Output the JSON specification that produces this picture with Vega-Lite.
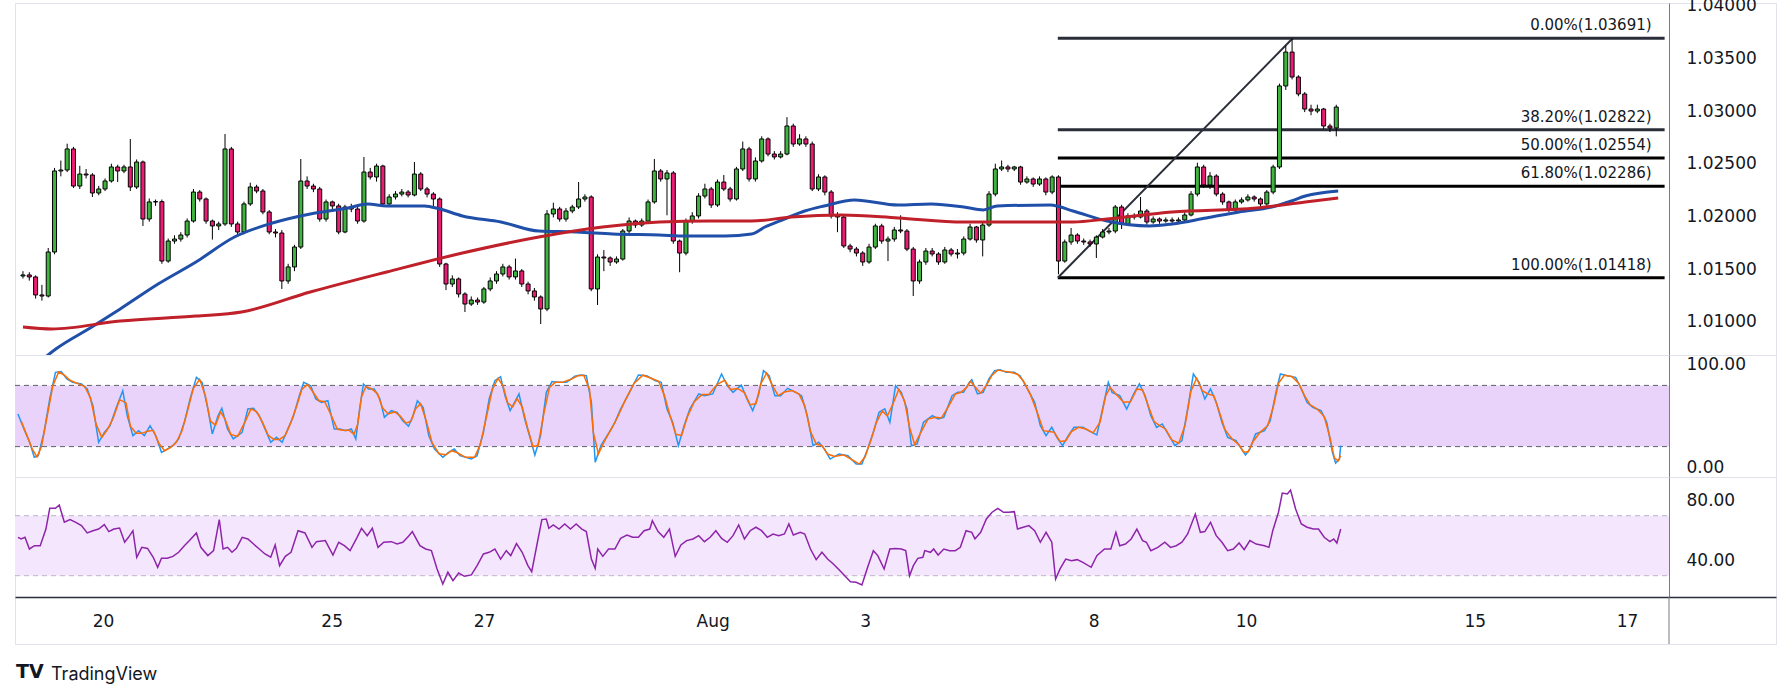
{
  "$schema": "https://vega.github.io/schema/vega-lite/v6.json",
  "background": "#ffffff",
  "padding": {"left": 14, "top": -4, "right": 16, "bottom": 8},
  "spacing": 0,
  "bounds": "flush",
  "config": {
    "view": {"stroke": "#e0e3eb", "strokeWidth": 1},
    "axis": {"labelFont": "DejaVu Sans", "labelFontSize": 17, "labelColor": "#131722", "ticks": false, "grid": false, "domainColor": "#787b86", "labelFlush": false, "labelOverlap": false},
    "text": {"font": "DejaVu Sans"}
  },
  "title": {"text": "TradingView", "orient": "bottom", "anchor": "start", "frame": "group", "dx": 36, "offset": -16, "fontSize": 18, "fontWeight": "normal", "font": "Inter", "color": "#131722"},
  "datasets": {
    "candles": [
      {"i":0,"o":1.01434,"h":1.0148,"l":1.0141,"c":1.01444},{"i":1,"o":1.01444,"h":1.0147,"l":1.0139,"c":1.01425},{"i":2,"o":1.01425,"h":1.0144,"l":1.0122,"c":1.01254},{"i":3,"o":1.01254,"h":1.0135,"l":1.012,"c":1.01244},{"i":4,"o":1.01244,"h":1.017,"l":1.0123,"c":1.01662},
      {"i":5,"o":1.01662,"h":1.0246,"l":1.0164,"c":1.02431},{"i":6,"o":1.02431,"h":1.0253,"l":1.0238,"c":1.0244},{"i":7,"o":1.0244,"h":1.0269,"l":1.0242,"c":1.0264},{"i":8,"o":1.0264,"h":1.0266,"l":1.0227,"c":1.02288},{"i":9,"o":1.02288,"h":1.0248,"l":1.0226,"c":1.02402},
      {"i":10,"o":1.02402,"h":1.0245,"l":1.0236,"c":1.02393},{"i":11,"o":1.02393,"h":1.0241,"l":1.02184,"c":1.02222},{"i":12,"o":1.02222,"h":1.0229,"l":1.022,"c":1.0226},{"i":13,"o":1.0226,"h":1.0236,"l":1.0224,"c":1.02336},{"i":14,"o":1.02336,"h":1.025,"l":1.0232,"c":1.02469},
      {"i":15,"o":1.02469,"h":1.0249,"l":1.02326,"c":1.02431},{"i":16,"o":1.02431,"h":1.0249,"l":1.0241,"c":1.02469},{"i":17,"o":1.02469,"h":1.02735,"l":1.02241,"c":1.02279},{"i":18,"o":1.02279,"h":1.0254,"l":1.0226,"c":1.02516},{"i":19,"o":1.02516,"h":1.0253,"l":1.01909,"c":1.01975},
      {"i":20,"o":1.01975,"h":1.0217,"l":1.0195,"c":1.02137},{"i":21,"o":1.02137,"h":1.0216,"l":1.021,"c":1.0214},{"i":22,"o":1.0214,"h":1.0216,"l":1.0155,"c":1.01576},{"i":23,"o":1.01576,"h":1.0179,"l":1.0156,"c":1.01766},{"i":24,"o":1.01766,"h":1.0182,"l":1.0174,"c":1.01785},
      {"i":25,"o":1.01785,"h":1.0185,"l":1.0176,"c":1.01823},{"i":26,"o":1.01823,"h":1.0198,"l":1.018,"c":1.01956},{"i":27,"o":1.01956,"h":1.0226,"l":1.0194,"c":1.02231},{"i":28,"o":1.02231,"h":1.0225,"l":1.0214,"c":1.02165},{"i":29,"o":1.02165,"h":1.0218,"l":1.0193,"c":1.01956},
      {"i":30,"o":1.01956,"h":1.0197,"l":1.0178,"c":1.01909},{"i":31,"o":1.01909,"h":1.0195,"l":1.0187,"c":1.01928},{"i":32,"o":1.01928,"h":1.02782,"l":1.0191,"c":1.0264},{"i":33,"o":1.0264,"h":1.0266,"l":1.019,"c":1.01928},{"i":34,"o":1.01928,"h":1.0195,"l":1.0182,"c":1.01852},
      {"i":35,"o":1.01852,"h":1.0214,"l":1.0183,"c":1.02118},{"i":36,"o":1.02118,"h":1.0232,"l":1.021,"c":1.02279},{"i":37,"o":1.02279,"h":1.023,"l":1.0222,"c":1.02241},{"i":38,"o":1.02241,"h":1.0226,"l":1.0202,"c":1.02042},{"i":39,"o":1.02042,"h":1.0206,"l":1.0183,"c":1.01852},
      {"i":40,"o":1.01852,"h":1.0188,"l":1.018,"c":1.01842},{"i":41,"o":1.01842,"h":1.0187,"l":1.01311,"c":1.01387},{"i":42,"o":1.01387,"h":1.0155,"l":1.0136,"c":1.0152},{"i":43,"o":1.0152,"h":1.0173,"l":1.0148,"c":1.01709},{"i":44,"o":1.01709,"h":1.02545,"l":1.0169,"c":1.02336},
      {"i":45,"o":1.02336,"h":1.0238,"l":1.0226,"c":1.02288},{"i":46,"o":1.02288,"h":1.0231,"l":1.0223,"c":1.0226},{"i":47,"o":1.0226,"h":1.0228,"l":1.0195,"c":1.01975},{"i":48,"o":1.01975,"h":1.0216,"l":1.0195,"c":1.02137},{"i":49,"o":1.02137,"h":1.0215,"l":1.0206,"c":1.02099},
      {"i":50,"o":1.02099,"h":1.0212,"l":1.0183,"c":1.01852},{"i":51,"o":1.01852,"h":1.0211,"l":1.0184,"c":1.02089},{"i":52,"o":1.02089,"h":1.0212,"l":1.0204,"c":1.0207},{"i":53,"o":1.0207,"h":1.0209,"l":1.0193,"c":1.01956},{"i":54,"o":1.01956,"h":1.02564,"l":1.0194,"c":1.02421},
      {"i":55,"o":1.02421,"h":1.0246,"l":1.0235,"c":1.02374},{"i":56,"o":1.02374,"h":1.025,"l":1.0233,"c":1.02478},{"i":57,"o":1.02478,"h":1.0249,"l":1.02099,"c":1.02118},{"i":58,"o":1.02118,"h":1.0221,"l":1.021,"c":1.02184},{"i":59,"o":1.02184,"h":1.0224,"l":1.0216,"c":1.02212},
      {"i":60,"o":1.02212,"h":1.0226,"l":1.0219,"c":1.02231},{"i":61,"o":1.02231,"h":1.0225,"l":1.0218,"c":1.02203},{"i":62,"o":1.02203,"h":1.02516,"l":1.0219,"c":1.02402},{"i":63,"o":1.02402,"h":1.0242,"l":1.0224,"c":1.0226},{"i":64,"o":1.0226,"h":1.0228,"l":1.0218,"c":1.02212},
      {"i":65,"o":1.02212,"h":1.0223,"l":1.0209,"c":1.02165},{"i":66,"o":1.02165,"h":1.0218,"l":1.0152,"c":1.01548},{"i":67,"o":1.01548,"h":1.0156,"l":1.013,"c":1.01358},{"i":68,"o":1.01358,"h":1.0144,"l":1.0133,"c":1.01406},{"i":69,"o":1.01406,"h":1.0142,"l":1.0123,"c":1.01263},
      {"i":70,"o":1.01263,"h":1.0128,"l":1.01092,"c":1.01168},{"i":71,"o":1.01168,"h":1.0124,"l":1.0115,"c":1.01206},{"i":72,"o":1.01206,"h":1.0123,"l":1.0116,"c":1.01187},{"i":73,"o":1.01187,"h":1.0133,"l":1.0117,"c":1.01311},{"i":74,"o":1.01311,"h":1.0142,"l":1.0129,"c":1.01387},
      {"i":75,"o":1.01387,"h":1.0148,"l":1.0136,"c":1.01453},{"i":76,"o":1.01453,"h":1.0155,"l":1.0143,"c":1.0152},{"i":77,"o":1.0152,"h":1.0154,"l":1.014,"c":1.01425},{"i":78,"o":1.01425,"h":1.016,"l":1.014,"c":1.01482},{"i":79,"o":1.01482,"h":1.015,"l":1.0133,"c":1.01358},
      {"i":80,"o":1.01358,"h":1.0138,"l":1.0126,"c":1.01292},{"i":81,"o":1.01292,"h":1.0132,"l":1.012,"c":1.01235},{"i":82,"o":1.01235,"h":1.0125,"l":1.00978,"c":1.01121},{"i":83,"o":1.01121,"h":1.0206,"l":1.011,"c":1.02023},{"i":84,"o":1.02023,"h":1.0213,"l":1.0199,"c":1.0207},
      {"i":85,"o":1.0207,"h":1.0209,"l":1.0195,"c":1.01975},{"i":86,"o":1.01975,"h":1.0208,"l":1.0195,"c":1.02051},{"i":87,"o":1.02051,"h":1.0211,"l":1.0203,"c":1.02089},{"i":88,"o":1.02089,"h":1.02326,"l":1.0207,"c":1.02165},{"i":89,"o":1.02165,"h":1.0221,"l":1.0214,"c":1.02184},
      {"i":90,"o":1.02184,"h":1.022,"l":1.0129,"c":1.01311},{"i":91,"o":1.01311,"h":1.0164,"l":1.01159,"c":1.01614},{"i":92,"o":1.01614,"h":1.0168,"l":1.0148,"c":1.01605},{"i":93,"o":1.01605,"h":1.0162,"l":1.0153,"c":1.01567},{"i":94,"o":1.01567,"h":1.0162,"l":1.0155,"c":1.01595},
      {"i":95,"o":1.01595,"h":1.0188,"l":1.0158,"c":1.01861},{"i":96,"o":1.01861,"h":1.0199,"l":1.0184,"c":1.01956},{"i":97,"o":1.01956,"h":1.0197,"l":1.0189,"c":1.01918},{"i":98,"o":1.01918,"h":1.0198,"l":1.019,"c":1.01956},{"i":99,"o":1.01956,"h":1.0216,"l":1.0194,"c":1.02137},
      {"i":100,"o":1.02137,"h":1.02545,"l":1.0212,"c":1.02431},{"i":101,"o":1.02431,"h":1.0245,"l":1.0233,"c":1.02355},{"i":102,"o":1.02355,"h":1.0244,"l":1.0201,"c":1.02412},{"i":103,"o":1.02412,"h":1.0243,"l":1.0174,"c":1.01766},{"i":104,"o":1.01766,"h":1.0178,"l":1.0147,"c":1.01652},
      {"i":105,"o":1.01652,"h":1.0198,"l":1.0163,"c":1.01956},{"i":106,"o":1.01956,"h":1.0204,"l":1.0193,"c":1.02004},{"i":107,"o":1.02004,"h":1.0222,"l":1.0198,"c":1.02193},{"i":108,"o":1.02193,"h":1.0231,"l":1.0217,"c":1.0226},{"i":109,"o":1.0226,"h":1.0228,"l":1.0208,"c":1.02108},
      {"i":110,"o":1.02108,"h":1.0235,"l":1.0209,"c":1.02326},{"i":111,"o":1.02326,"h":1.02393,"l":1.0224,"c":1.0226},{"i":112,"o":1.0226,"h":1.0228,"l":1.0214,"c":1.02165},{"i":113,"o":1.02165,"h":1.0247,"l":1.0215,"c":1.0245},{"i":114,"o":1.0245,"h":1.0271,"l":1.0243,"c":1.0264},
      {"i":115,"o":1.0264,"h":1.0266,"l":1.0233,"c":1.02355},{"i":116,"o":1.02355,"h":1.0256,"l":1.0233,"c":1.02526},{"i":117,"o":1.02526,"h":1.0276,"l":1.0251,"c":1.02735},{"i":118,"o":1.02735,"h":1.0275,"l":1.0257,"c":1.02592},{"i":119,"o":1.02592,"h":1.0262,"l":1.0254,"c":1.02564},
      {"i":120,"o":1.02564,"h":1.0262,"l":1.0255,"c":1.02592},{"i":121,"o":1.02592,"h":1.02942,"l":1.0258,"c":1.02858},{"i":122,"o":1.02858,"h":1.0288,"l":1.0266,"c":1.02687},{"i":123,"o":1.02687,"h":1.0278,"l":1.0267,"c":1.02735},{"i":124,"o":1.02735,"h":1.0276,"l":1.0266,"c":1.02687},
      {"i":125,"o":1.02687,"h":1.0271,"l":1.0224,"c":1.0226},{"i":126,"o":1.0226,"h":1.024,"l":1.0224,"c":1.02374},{"i":127,"o":1.02374,"h":1.0239,"l":1.022,"c":1.02231},{"i":128,"o":1.02231,"h":1.0225,"l":1.0198,"c":1.02004},{"i":129,"o":1.02004,"h":1.0204,"l":1.0185,"c":1.01994},
      {"i":130,"o":1.01994,"h":1.0201,"l":1.017,"c":1.01719},{"i":131,"o":1.01719,"h":1.0174,"l":1.0166,"c":1.0169},{"i":132,"o":1.0169,"h":1.0171,"l":1.0162,"c":1.01652},{"i":133,"o":1.01652,"h":1.0167,"l":1.0153,"c":1.01567},{"i":134,"o":1.01567,"h":1.0174,"l":1.0155,"c":1.01709},
      {"i":135,"o":1.01709,"h":1.0193,"l":1.0169,"c":1.01909},{"i":136,"o":1.01909,"h":1.0193,"l":1.0174,"c":1.01766},{"i":137,"o":1.01766,"h":1.0181,"l":1.01576,"c":1.01785},{"i":138,"o":1.01785,"h":1.019,"l":1.0176,"c":1.01871},{"i":139,"o":1.01871,"h":1.0201,"l":1.0184,"c":1.01861},
      {"i":140,"o":1.01861,"h":1.0188,"l":1.0167,"c":1.0169},{"i":141,"o":1.0169,"h":1.0171,"l":1.01244,"c":1.01387},{"i":142,"o":1.01387,"h":1.0159,"l":1.0136,"c":1.01567},{"i":143,"o":1.01567,"h":1.017,"l":1.0154,"c":1.01671},{"i":144,"o":1.01671,"h":1.017,"l":1.0162,"c":1.01643},
      {"i":145,"o":1.01643,"h":1.0166,"l":1.0154,"c":1.01567},{"i":146,"o":1.01567,"h":1.0171,"l":1.0155,"c":1.01681},{"i":147,"o":1.01681,"h":1.017,"l":1.0162,"c":1.01643},{"i":148,"o":1.01643,"h":1.0169,"l":1.016,"c":1.01652},{"i":149,"o":1.01652,"h":1.0181,"l":1.0163,"c":1.01785},
      {"i":150,"o":1.01785,"h":1.0193,"l":1.0177,"c":1.01899},{"i":151,"o":1.01899,"h":1.0191,"l":1.0175,"c":1.01776},{"i":152,"o":1.01776,"h":1.0194,"l":1.0162,"c":1.01918},{"i":153,"o":1.01918,"h":1.0224,"l":1.019,"c":1.02212},{"i":154,"o":1.02212,"h":1.025,"l":1.0219,"c":1.0245},
      {"i":155,"o":1.0245,"h":1.0253,"l":1.0243,"c":1.02469},{"i":156,"o":1.02469,"h":1.0249,"l":1.0242,"c":1.0245},{"i":157,"o":1.0245,"h":1.0248,"l":1.0243,"c":1.02469},{"i":158,"o":1.02469,"h":1.0248,"l":1.023,"c":1.02326},{"i":159,"o":1.02326,"h":1.0238,"l":1.0231,"c":1.02355},
      {"i":160,"o":1.02355,"h":1.0237,"l":1.0228,"c":1.02307},{"i":161,"o":1.02307,"h":1.0238,"l":1.0229,"c":1.02355},{"i":162,"o":1.02355,"h":1.0237,"l":1.022,"c":1.02231},{"i":163,"o":1.02231,"h":1.0239,"l":1.0221,"c":1.02374},{"i":164,"o":1.02374,"h":1.0239,"l":1.0145,"c":1.01576},
      {"i":165,"o":1.01576,"h":1.0178,"l":1.0156,"c":1.01757},{"i":166,"o":1.01757,"h":1.0189,"l":1.0173,"c":1.01823},{"i":167,"o":1.01823,"h":1.0184,"l":1.0174,"c":1.01766},{"i":168,"o":1.01766,"h":1.0179,"l":1.0173,"c":1.01757},{"i":169,"o":1.01757,"h":1.0178,"l":1.0171,"c":1.01738},
      {"i":170,"o":1.01738,"h":1.0182,"l":1.01605,"c":1.01804},{"i":171,"o":1.01804,"h":1.0188,"l":1.0179,"c":1.01852},{"i":172,"o":1.01852,"h":1.0189,"l":1.0183,"c":1.01861},{"i":173,"o":1.01861,"h":1.02108,"l":1.0184,"c":1.02089},{"i":174,"o":1.02089,"h":1.0211,"l":1.0188,"c":1.01928},
      {"i":175,"o":1.01928,"h":1.0203,"l":1.0191,"c":1.02004},{"i":176,"o":1.02004,"h":1.0203,"l":1.0197,"c":1.01994},{"i":177,"o":1.01994,"h":1.02184,"l":1.0198,"c":1.02051},{"i":178,"o":1.02051,"h":1.0207,"l":1.0192,"c":1.01947},{"i":179,"o":1.01947,"h":1.02,"l":1.0193,"c":1.01975},
      {"i":180,"o":1.01975,"h":1.0199,"l":1.0193,"c":1.01956},{"i":181,"o":1.01956,"h":1.0199,"l":1.0194,"c":1.01966},{"i":182,"o":1.01966,"h":1.0199,"l":1.0193,"c":1.01956},{"i":183,"o":1.01956,"h":1.0199,"l":1.0194,"c":1.01966},{"i":184,"o":1.01966,"h":1.0204,"l":1.0195,"c":1.02013},
      {"i":185,"o":1.02013,"h":1.0224,"l":1.02,"c":1.02212},{"i":186,"o":1.02212,"h":1.0251,"l":1.0219,"c":1.02469},{"i":187,"o":1.02469,"h":1.0249,"l":1.0227,"c":1.02298},{"i":188,"o":1.02298,"h":1.0242,"l":1.0226,"c":1.02383},{"i":189,"o":1.02383,"h":1.024,"l":1.0219,"c":1.02212},
      {"i":190,"o":1.02212,"h":1.0223,"l":1.0211,"c":1.02137},{"i":191,"o":1.02137,"h":1.0215,"l":1.0204,"c":1.02061},{"i":192,"o":1.02061,"h":1.0216,"l":1.0204,"c":1.02137},{"i":193,"o":1.02137,"h":1.0218,"l":1.0212,"c":1.02156},{"i":194,"o":1.02156,"h":1.0221,"l":1.0214,"c":1.02184},
      {"i":195,"o":1.02184,"h":1.022,"l":1.0214,"c":1.02165},{"i":196,"o":1.02165,"h":1.0218,"l":1.0209,"c":1.02118},{"i":197,"o":1.02118,"h":1.0225,"l":1.0208,"c":1.02231},{"i":198,"o":1.02231,"h":1.0249,"l":1.0221,"c":1.02469},{"i":199,"o":1.02469,"h":1.0326,"l":1.0245,"c":1.03238},
      {"i":200,"o":1.03238,"h":1.0362,"l":1.032,"c":1.0356},{"i":201,"o":1.0356,"h":1.03691,"l":1.033,"c":1.03323},{"i":202,"o":1.03323,"h":1.0334,"l":1.0314,"c":1.03162},{"i":203,"o":1.03162,"h":1.0318,"l":1.0299,"c":1.03019},{"i":204,"o":1.03019,"h":1.0306,"l":1.0296,"c":1.03},
      {"i":205,"o":1.03,"h":1.0306,"l":1.0298,"c":1.03019},{"i":206,"o":1.03019,"h":1.0303,"l":1.0283,"c":1.02858},{"i":207,"o":1.02858,"h":1.0288,"l":1.028,"c":1.02839},{"i":208,"o":1.02839,"h":1.0306,"l":1.0276,"c":1.03038}
    ],
    "ma100": [
      {"i":2.05,"v":1.00589},{"i":5.2,"v":1.00741},{"i":10.9,"v":1.0095},{"i":15.4,"v":1.01121},{"i":21.4,"v":1.01358},{"i":27.4,"v":1.01567},{"i":33.5,"v":1.01804},{"i":39.5,"v":1.01937},{"i":45.5,"v":1.02023},{"i":51.5,"v":1.0208},{"i":54.6,"v":1.02118},{"i":57.6,"v":1.02099},{"i":63.6,"v":1.02099},{"i":66,"v":1.0207},{"i":69.6,"v":1.02004},{"i":75.7,"v":1.01947},{"i":81.7,"v":1.01861},{"i":87.7,"v":1.01852},{"i":93.4,"v":1.01833},{"i":100.8,"v":1.01823},{"i":104.9,"v":1.01814},{"i":111.2,"v":1.01814},{"i":115.4,"v":1.01833},{"i":117.5,"v":1.01899},{"i":120.6,"v":1.01975},{"i":123.8,"v":1.02051},{"i":126.9,"v":1.02099},{"i":131.7,"v":1.02156},{"i":138.6,"v":1.02108},{"i":143.8,"v":1.02118},{"i":149,"v":1.02089},{"i":152.1,"v":1.02061},{"i":154.3,"v":1.02099},{"i":162.7,"v":1.02108},{"i":166.3,"v":1.02051},{"i":171.7,"v":1.01956},{"i":178.4,"v":1.01909},{"i":182,"v":1.01928},{"i":187.4,"v":1.01985},{"i":192.6,"v":1.02042},{"i":197.8,"v":1.02089},{"i":200.9,"v":1.02146},{"i":203.1,"v":1.02193},{"i":208.3,"v":1.02241}
    ],
    "ma200": [
      {"i":0,"v":1.0095},{"i":4.6,"v":1.00931},{"i":15.4,"v":1.01007},{"i":27.4,"v":1.01054},{"i":34.6,"v":1.01092},{"i":45.5,"v":1.01282},{"i":57.6,"v":1.01472},{"i":69.6,"v":1.01652},{"i":81.7,"v":1.01804},{"i":91.8,"v":1.01899},{"i":100.8,"v":1.01947},{"i":108.7,"v":1.01956},{"i":115.4,"v":1.01956},{"i":121.7,"v":1.01994},{"i":129.6,"v":1.02013},{"i":138.6,"v":1.01985},{"i":149,"v":1.01947},{"i":159.5,"v":1.01947},{"i":166.3,"v":1.01947},{"i":171.7,"v":1.01975},{"i":182,"v":1.02042},{"i":195.3,"v":1.0208},{"i":203.1,"v":1.02137},{"i":208.3,"v":1.02174}
    ],
    "fib": [
      {"lvl":"0","p":1.03691,"a":163.9,"b":260,"label":"0.00%(1.03691)"},
      {"lvl":"0.382","p":1.02822,"a":163.9,"b":260,"label":"38.20%(1.02822)"},
      {"lvl":"0.5","p":1.02554,"a":163.9,"b":260,"label":"50.00%(1.02554)"},
      {"lvl":"0.618","p":1.02286,"a":163.9,"b":260,"label":"61.80%(1.02286)"},
      {"lvl":"1","p":1.01418,"a":163.9,"b":260,"label":"100.00%(1.01418)"}
    ],
    "diag": [{"i":163.9,"p":1.01418},{"i":201.1,"p":1.03691}],
    "stk": [
      {"i":0,"v":52},{"i":0.94,"v":37.3},{"i":1.84,"v":24.2},{"i":2.56,"v":9.5},{"i":3.2,"v":11.1},{"i":4.1,"v":34},{"i":5,"v":66.7},{"i":5.9,"v":92.8},{"i":6.8,"v":93.5},{"i":7.7,"v":86.3},{"i":8.6,"v":83},{"i":10,"v":81.4},{"i":10.9,"v":76.5},{"i":11.8,"v":60.1},{"i":12.7,"v":24.2},{"i":13.6,"v":34},{"i":14.5,"v":40.5},{"i":15.4,"v":56.9},{"i":16.5,"v":74.8},{"i":17.2,"v":50.3},{"i":18.1,"v":30.7},{"i":19,"v":35.6},{"i":19.9,"v":30.7},{"i":20.8,"v":40.5},{"i":21.7,"v":30.7},{"i":22.6,"v":14.4},{"i":23.5,"v":17.6},{"i":24.4,"v":20.9},{"i":25.3,"v":27.5},{"i":26.2,"v":43.8},{"i":27.1,"v":66.7},{"i":28.1,"v":87.9},{"i":29,"v":83},{"i":29.9,"v":56.9},{"i":30.6,"v":32.4},{"i":31.5,"v":50.3},{"i":32.1,"v":57.5},{"i":33,"v":37.3},{"i":33.9,"v":27.5},{"i":35.3,"v":34},{"i":36.2,"v":56.9},{"i":37.1,"v":57.5},{"i":38,"v":50.3},{"i":38.9,"v":37.3},{"i":39.8,"v":24.2},{"i":40.7,"v":29.1},{"i":41.6,"v":24.2},{"i":42.5,"v":37.3},{"i":43.4,"v":50.3},{"i":44.3,"v":69.9},{"i":45,"v":83},{"i":46.1,"v":79.7},{"i":46.9,"v":66.7},{"i":47.8,"v":63.4},{"i":48.8,"v":65},{"i":49.8,"v":37.3},{"i":50.7,"v":37.3},{"i":51.6,"v":35.6},{"i":52.5,"v":37.3},{"i":53.2,"v":27.5},{"i":53.8,"v":56.9},{"i":54.4,"v":81.4},{"i":55.2,"v":76.5},{"i":56.1,"v":76.5},{"i":57,"v":66.7},{"i":57.7,"v":48.7},{"i":58.8,"v":55.2},{"i":59.7,"v":53.6},{"i":60.6,"v":45.4},{"i":61.5,"v":39.9},{"i":62.2,"v":50.3},{"i":62.9,"v":65},{"i":63.8,"v":58.5},{"i":64.7,"v":30.7},{"i":65.6,"v":17.6},{"i":66.9,"v":9.5},{"i":67.8,"v":14.4},{"i":68.7,"v":17.6},{"i":69.6,"v":11.1},{"i":71.4,"v":7.8},{"i":72.3,"v":11.1},{"i":73.3,"v":34},{"i":74.2,"v":66.7},{"i":75.1,"v":84.7},{"i":76,"v":88.6},{"i":76.7,"v":69.9},{"i":77.5,"v":55.2},{"i":78.2,"v":63.4},{"i":78.9,"v":71.6},{"i":79.8,"v":47.1},{"i":80.7,"v":27.5},{"i":81.4,"v":11.8},{"i":82.3,"v":30.7},{"i":83.2,"v":73.2},{"i":84.1,"v":83.7},{"i":85,"v":83},{"i":86.4,"v":83},{"i":87.7,"v":88.9},{"i":88.6,"v":90.2},{"i":89.5,"v":89.5},{"i":90.3,"v":63.4},{"i":90.9,"v":4.6},{"i":91.8,"v":20.9},{"i":93.1,"v":34},{"i":94,"v":43.8},{"i":94.9,"v":56.9},{"i":96.3,"v":73.2},{"i":97.7,"v":90.2},{"i":99,"v":89.5},{"i":100.4,"v":84.6},{"i":101.3,"v":83},{"i":102.2,"v":56.9},{"i":103.1,"v":43.8},{"i":104,"v":20.9},{"i":104.9,"v":40.5},{"i":105.8,"v":56.9},{"i":107.2,"v":71.6},{"i":108.1,"v":69.9},{"i":109.4,"v":71.6},{"i":110.8,"v":91.2},{"i":111.7,"v":79.7},{"i":112.6,"v":73.2},{"i":113.9,"v":80.4},{"i":114.8,"v":66.7},{"i":115.7,"v":55.2},{"i":116.6,"v":69.9},{"i":117.4,"v":94.5},{"i":118.3,"v":89.5},{"i":119.2,"v":69.9},{"i":120.1,"v":69.9},{"i":121.2,"v":77.1},{"i":122.5,"v":73.2},{"i":123.4,"v":69.9},{"i":124.3,"v":50.3},{"i":125.2,"v":20.9},{"i":126.1,"v":24.2},{"i":127,"v":17.6},{"i":127.9,"v":7.8},{"i":129.3,"v":12.8},{"i":130.7,"v":11.1},{"i":132,"v":2.9},{"i":132.9,"v":2.9},{"i":133.8,"v":17.6},{"i":134.7,"v":34},{"i":135.6,"v":53.6},{"i":136.5,"v":56.9},{"i":137.3,"v":43.8},{"i":138.2,"v":79.7},{"i":139.1,"v":73.2},{"i":140,"v":56.9},{"i":140.7,"v":20.9},{"i":141.6,"v":22.6},{"i":142.6,"v":43.8},{"i":144,"v":50.3},{"i":144.9,"v":47.1},{"i":145.8,"v":48.7},{"i":147.1,"v":69.9},{"i":148,"v":73.2},{"i":148.9,"v":73.2},{"i":149.8,"v":83},{"i":150.2,"v":85.6},{"i":151.1,"v":71.6},{"i":152,"v":73.2},{"i":152.9,"v":86.3},{"i":153.8,"v":94.5},{"i":154.7,"v":95.4},{"i":155.6,"v":92.8},{"i":156.9,"v":92.8},{"i":157.8,"v":89.5},{"i":158.7,"v":79.7},{"i":160.1,"v":63.4},{"i":161,"v":40.5},{"i":161.9,"v":30.7},{"i":162.8,"v":38.9},{"i":163.6,"v":29.1},{"i":164.5,"v":20.9},{"i":165.4,"v":30.7},{"i":166.3,"v":38.9},{"i":167.7,"v":38.9},{"i":168.6,"v":35.6},{"i":169.9,"v":31.4},{"i":170.8,"v":56.9},{"i":171.7,"v":83},{"i":172.3,"v":73.2},{"i":173.5,"v":69.9},{"i":174.6,"v":56.9},{"i":175.7,"v":71.6},{"i":176.6,"v":81.4},{"i":177.5,"v":69.9},{"i":178.4,"v":50.3},{"i":179.3,"v":38.9},{"i":180.2,"v":42.2},{"i":181.1,"v":32.4},{"i":182.2,"v":20.9},{"i":183.3,"v":25.8},{"i":184.2,"v":56.9},{"i":185.1,"v":91.2},{"i":186,"v":83},{"i":186.9,"v":66.7},{"i":187.8,"v":76.5},{"i":188.7,"v":63.4},{"i":189.6,"v":43.8},{"i":190.5,"v":29.1},{"i":191.8,"v":25.8},{"i":192.7,"v":17.6},{"i":193.3,"v":11.8},{"i":194,"v":17.6},{"i":194.9,"v":32.4},{"i":196.3,"v":35.6},{"i":197.2,"v":45.4},{"i":198.1,"v":73.2},{"i":198.8,"v":91.2},{"i":199.9,"v":89.5},{"i":201.2,"v":87.9},{"i":202.1,"v":76.5},{"i":203,"v":63.4},{"i":203.9,"v":58.5},{"i":205.2,"v":55.2},{"i":206.1,"v":43.8},{"i":207,"v":14.4},{"i":207.5,"v":3.9},{"i":208.1,"v":7.8},{"i":208.3,"v":20.9}
    ],
    "std": [
      {"i":0.5,"v":45},{"i":1.4,"v":31},{"i":2.3,"v":17},{"i":3,"v":10},{"i":3.7,"v":20},{"i":4.6,"v":50},{"i":5.5,"v":80},{"i":6.4,"v":93},{"i":7.3,"v":90},{"i":8.2,"v":85},{"i":9.3,"v":82},{"i":10.5,"v":79},{"i":11.4,"v":68},{"i":12.3,"v":42},{"i":13.2,"v":29},{"i":14.1,"v":37},{"i":15,"v":48},{"i":16,"v":66},{"i":17,"v":63},{"i":17.7,"v":40},{"i":18.6,"v":33},{"i":19.5,"v":33},{"i":20.4,"v":35},{"i":21.3,"v":36},{"i":22.2,"v":23},{"i":23.1,"v":16},{"i":24,"v":19},{"i":24.9,"v":24},{"i":25.8,"v":35},{"i":26.7,"v":55},{"i":27.6,"v":77},{"i":28.6,"v":86},{"i":29.5,"v":70},{"i":30.3,"v":45},{"i":31.1,"v":41},{"i":31.9,"v":54},{"i":32.6,"v":47},{"i":33.5,"v":32},{"i":34.6,"v":30},{"i":35.8,"v":45},{"i":36.7,"v":57},{"i":37.6,"v":54},{"i":38.5,"v":44},{"i":39.4,"v":31},{"i":40.3,"v":27},{"i":41.2,"v":27},{"i":42.1,"v":31},{"i":43,"v":44},{"i":43.9,"v":60},{"i":44.7,"v":76},{"i":45.6,"v":81},{"i":46.5,"v":73},{"i":47.4,"v":65},{"i":48.3,"v":64},{"i":49.3,"v":51},{"i":50.3,"v":37},{"i":51.2,"v":36},{"i":52.1,"v":36},{"i":52.9,"v":32},{"i":53.5,"v":42},{"i":54.1,"v":69},{"i":54.8,"v":79},{"i":55.7,"v":76.5},{"i":56.6,"v":72},{"i":57.4,"v":58},{"i":58.3,"v":52},{"i":59.3,"v":54},{"i":60.2,"v":50},{"i":61.1,"v":43},{"i":61.9,"v":45},{"i":62.6,"v":57},{"i":63.4,"v":62},{"i":64.3,"v":45},{"i":65.2,"v":24},{"i":66.3,"v":13},{"i":67.4,"v":12},{"i":68.3,"v":16},{"i":69.2,"v":14},{"i":70.5,"v":9.5},{"i":71.9,"v":9.5},{"i":72.8,"v":22},{"i":73.8,"v":50},{"i":74.7,"v":76},{"i":75.6,"v":87},{"i":76.4,"v":79},{"i":77.1,"v":63},{"i":77.9,"v":59},{"i":78.6,"v":67},{"i":79.4,"v":59},{"i":80.3,"v":37},{"i":81.1,"v":20},{"i":81.9,"v":21},{"i":82.8,"v":52},{"i":83.7,"v":78},{"i":84.6,"v":83},{"i":85.7,"v":83},{"i":87.1,"v":86},{"i":88.2,"v":89.5},{"i":89.1,"v":90},{"i":90,"v":76},{"i":90.6,"v":34},{"i":91.4,"v":13},{"i":92.5,"v":27},{"i":93.6,"v":39},{"i":94.5,"v":50},{"i":95.6,"v":65},{"i":97,"v":82},{"i":98.4,"v":90},{"i":99.7,"v":87},{"i":100.9,"v":84},{"i":101.8,"v":70},{"i":102.7,"v":50},{"i":103.6,"v":32},{"i":104.5,"v":31},{"i":105.4,"v":49},{"i":106.5,"v":64},{"i":107.7,"v":71},{"i":108.8,"v":71},{"i":110.1,"v":81},{"i":111.3,"v":85},{"i":112.2,"v":76},{"i":113.3,"v":77},{"i":114.4,"v":73},{"i":115.3,"v":61},{"i":116.2,"v":62},{"i":117,"v":82},{"i":117.9,"v":92},{"i":118.8,"v":80},{"i":119.7,"v":70},{"i":120.7,"v":73.5},{"i":121.9,"v":75},{"i":123,"v":71.5},{"i":123.9,"v":60},{"i":124.8,"v":35},{"i":125.7,"v":22.5},{"i":126.6,"v":21},{"i":127.5,"v":12.7},{"i":128.6,"v":10.3},{"i":130,"v":12},{"i":131.4,"v":7},{"i":132.5,"v":2.9},{"i":133.4,"v":10},{"i":134.3,"v":26},{"i":135.2,"v":44},{"i":136.1,"v":55},{"i":136.9,"v":50},{"i":137.8,"v":62},{"i":138.7,"v":76},{"i":139.6,"v":65},{"i":140.4,"v":39},{"i":141.2,"v":22},{"i":142.1,"v":33},{"i":143.3,"v":47},{"i":144.5,"v":48.7},{"i":145.4,"v":48},{"i":146.5,"v":59},{"i":147.6,"v":71.5},{"i":148.5,"v":73.2},{"i":149.4,"v":78},{"i":150,"v":84},{"i":150.7,"v":78.6},{"i":151.6,"v":72.4},{"i":152.5,"v":80},{"i":153.4,"v":90},{"i":154.3,"v":95},{"i":155.2,"v":94},{"i":156.3,"v":92.8},{"i":157.4,"v":91},{"i":158.3,"v":84.6},{"i":159.4,"v":71.5},{"i":160.6,"v":52},{"i":161.5,"v":35.6},{"i":162.4,"v":34.8},{"i":163.2,"v":34},{"i":164.1,"v":25},{"i":165,"v":25.8},{"i":165.9,"v":34.8},{"i":167,"v":38.9},{"i":168.2,"v":37.2},{"i":169.3,"v":33.5},{"i":170.4,"v":44},{"i":171.3,"v":70},{"i":172,"v":78},{"i":172.9,"v":71.5},{"i":174.1,"v":63.4},{"i":175.2,"v":64},{"i":176.2,"v":76.5},{"i":177.1,"v":75.6},{"i":178,"v":60},{"i":178.9,"v":44.6},{"i":179.8,"v":40.5},{"i":180.7,"v":37.3},{"i":181.7,"v":26.6},{"i":182.8,"v":23.3},{"i":183.8,"v":41.3},{"i":184.7,"v":74},{"i":185.6,"v":87},{"i":186.5,"v":74.8},{"i":187.4,"v":71.6},{"i":188.3,"v":70},{"i":189.2,"v":53.6},{"i":190.1,"v":36.4},{"i":191.2,"v":27.4},{"i":192.3,"v":21.7},{"i":193,"v":14.7},{"i":193.7,"v":14.7},{"i":194.5,"v":25},{"i":195.6,"v":34},{"i":196.8,"v":40.5},{"i":197.7,"v":59.3},{"i":198.5,"v":82},{"i":199.4,"v":90},{"i":200.6,"v":88.7},{"i":201.7,"v":82},{"i":202.6,"v":70},{"i":203.5,"v":61},{"i":204.6,"v":56.8},{"i":205.7,"v":49.5},{"i":206.6,"v":29},{"i":207.3,"v":9},{"i":207.9,"v":6},{"i":208.3,"v":11}
    ],
    "rsi": [
      {"i":0,"v":55.6},{"i":0.5,"v":54.5},{"i":1.1,"v":55.6},{"i":1.8,"v":47.8},{"i":2.6,"v":50},{"i":3.5,"v":50},{"i":4.4,"v":61.1},{"i":5,"v":74.9},{"i":5.9,"v":74.9},{"i":6.5,"v":77.1},{"i":7.3,"v":65.6},{"i":8.2,"v":67.4},{"i":9.1,"v":65.6},{"i":10,"v":63.4},{"i":10.9,"v":58.5},{"i":11.8,"v":60},{"i":12.7,"v":61.1},{"i":13.6,"v":64},{"i":14.3,"v":59.4},{"i":15.1,"v":61.1},{"i":16,"v":61.8},{"i":16.8,"v":52.3},{"i":17.4,"v":55.6},{"i":18.1,"v":60},{"i":18.7,"v":42.3},{"i":19.5,"v":48.9},{"i":20.4,"v":48.2},{"i":21.3,"v":42.3},{"i":22,"v":35.6},{"i":22.6,"v":41.6},{"i":23.5,"v":41.6},{"i":24.4,"v":42.9},{"i":25.3,"v":45.6},{"i":26.2,"v":50},{"i":27,"v":53.4},{"i":28.1,"v":58.5},{"i":28.8,"v":48.9},{"i":29.9,"v":43.4},{"i":30.8,"v":46.7},{"i":31.7,"v":67.4},{"i":32.3,"v":47.8},{"i":33,"v":48.9},{"i":33.7,"v":45.6},{"i":34.4,"v":48.2},{"i":35.3,"v":55.6},{"i":36.2,"v":54.5},{"i":37.1,"v":51.1},{"i":38,"v":47.8},{"i":38.9,"v":44.5},{"i":39.8,"v":42.3},{"i":40.5,"v":50.5},{"i":41.2,"v":36.7},{"i":42.1,"v":42.9},{"i":43,"v":45.6},{"i":44.1,"v":60},{"i":45.2,"v":58.5},{"i":46.3,"v":48.9},{"i":47,"v":52.7},{"i":48.4,"v":53.4},{"i":49.6,"v":43.8},{"i":50.5,"v":52.3},{"i":51.4,"v":50},{"i":52.3,"v":46.7},{"i":53.4,"v":55.6},{"i":54.1,"v":61.6},{"i":55,"v":56.7},{"i":55.8,"v":61.6},{"i":56.7,"v":48.9},{"i":57.6,"v":52.3},{"i":58.8,"v":52.7},{"i":59.7,"v":51.1},{"i":60.6,"v":52.3},{"i":61.5,"v":56.3},{"i":62.1,"v":59.4},{"i":63.3,"v":50},{"i":64.2,"v":47.8},{"i":65.1,"v":46.7},{"i":66,"v":34.5},{"i":66.9,"v":24.5},{"i":67.7,"v":32.3},{"i":68.5,"v":26.7},{"i":69.4,"v":31.8},{"i":70.3,"v":29.6},{"i":71.4,"v":30.5},{"i":72.3,"v":36.7},{"i":73.3,"v":44.5},{"i":74.2,"v":45.6},{"i":75.1,"v":47.8},{"i":76,"v":41.1},{"i":76.9,"v":46.7},{"i":77.6,"v":43.4},{"i":78.5,"v":51.4},{"i":79.4,"v":45.6},{"i":80.3,"v":36.7},{"i":80.9,"v":32.7},{"i":81.8,"v":52.3},{"i":82.5,"v":67.4},{"i":83.2,"v":67.8},{"i":83.6,"v":61.6},{"i":84.3,"v":63.8},{"i":85.2,"v":61.1},{"i":86.1,"v":64.5},{"i":87,"v":61.1},{"i":87.9,"v":64.5},{"i":88.8,"v":61.1},{"i":89.5,"v":59.4},{"i":90.3,"v":41.1},{"i":90.9,"v":34.9},{"i":91.3,"v":47.8},{"i":92.1,"v":42.9},{"i":93,"v":47.8},{"i":94,"v":47.8},{"i":94.9,"v":54.9},{"i":95.9,"v":57.1},{"i":96.8,"v":55.6},{"i":97.7,"v":55.6},{"i":98.6,"v":60},{"i":99.5,"v":61.1},{"i":99.9,"v":66.7},{"i":100.8,"v":59.4},{"i":101.7,"v":55.6},{"i":102.6,"v":61.1},{"i":103.5,"v":42.9},{"i":104.4,"v":50.5},{"i":105.3,"v":53.4},{"i":106.3,"v":54.5},{"i":107.2,"v":56.7},{"i":108.1,"v":52.7},{"i":109,"v":55.6},{"i":109.9,"v":60},{"i":110.8,"v":54.9},{"i":111.7,"v":52.3},{"i":112.6,"v":56.7},{"i":113.5,"v":63.8},{"i":114.4,"v":54.5},{"i":115.3,"v":60},{"i":116.2,"v":62.3},{"i":117.1,"v":60},{"i":118,"v":55.6},{"i":118.9,"v":57.8},{"i":119.8,"v":56.7},{"i":120.7,"v":57.8},{"i":121.4,"v":64.5},{"i":122.1,"v":57.1},{"i":123.2,"v":58.9},{"i":123.9,"v":57.8},{"i":124.8,"v":47.8},{"i":125.7,"v":40.7},{"i":126.6,"v":45.6},{"i":127.5,"v":41.1},{"i":128.4,"v":37.8},{"i":129.3,"v":34},{"i":130.2,"v":30},{"i":131.1,"v":26},{"i":132,"v":25.6},{"i":132.9,"v":23.8},{"i":133.8,"v":35.6},{"i":134.7,"v":46.7},{"i":135.4,"v":43.4},{"i":136.4,"v":34.5},{"i":137.3,"v":47.8},{"i":138.2,"v":48.2},{"i":139.1,"v":47.8},{"i":139.8,"v":46.7},{"i":140.4,"v":30},{"i":141,"v":36.7},{"i":141.7,"v":41.6},{"i":142.5,"v":42.3},{"i":142.8,"v":46.7},{"i":143.7,"v":45.6},{"i":144.2,"v":47.8},{"i":144.9,"v":43.8},{"i":145.8,"v":47.8},{"i":146.7,"v":46.7},{"i":147.6,"v":46.7},{"i":148.4,"v":48.9},{"i":149.3,"v":60},{"i":150.2,"v":58.9},{"i":150.7,"v":54.5},{"i":151.6,"v":58.9},{"i":152.5,"v":67.8},{"i":153.4,"v":72.3},{"i":154.3,"v":74.9},{"i":155.2,"v":72.3},{"i":156,"v":72.3},{"i":156.9,"v":72.7},{"i":157.4,"v":61.1},{"i":158.3,"v":62.3},{"i":159.2,"v":63.4},{"i":160.1,"v":60},{"i":161,"v":52.3},{"i":161.9,"v":58.9},{"i":162.8,"v":52.3},{"i":163.4,"v":27.8},{"i":164.1,"v":34.5},{"i":165,"v":41.1},{"i":165.9,"v":40},{"i":166.8,"v":40.7},{"i":167.7,"v":38.9},{"i":169,"v":35.6},{"i":169.9,"v":43.4},{"i":171.1,"v":47.8},{"i":172.1,"v":47.8},{"i":172.9,"v":58.9},{"i":173.5,"v":50},{"i":174.4,"v":51.1},{"i":175.3,"v":54.5},{"i":176.2,"v":61.1},{"i":177.1,"v":53.4},{"i":177.7,"v":52.3},{"i":178.4,"v":46.7},{"i":179.5,"v":48.9},{"i":180.6,"v":52.3},{"i":181.5,"v":48.9},{"i":182.4,"v":50},{"i":183.3,"v":52.3},{"i":184.2,"v":57.8},{"i":185.4,"v":71.1},{"i":186.2,"v":58.9},{"i":186.9,"v":59.4},{"i":187.8,"v":65.6},{"i":188.7,"v":56.7},{"i":189.6,"v":52.3},{"i":190.5,"v":46.7},{"i":191.4,"v":47.8},{"i":192.3,"v":51.8},{"i":193.1,"v":47.4},{"i":194,"v":53.4},{"i":195,"v":51.1},{"i":196.3,"v":50},{"i":197,"v":48.9},{"i":197.6,"v":60},{"i":198.5,"v":72.3},{"i":199.1,"v":85.1},{"i":199.9,"v":84.5},{"i":200.4,"v":87.1},{"i":201.2,"v":74.5},{"i":202.1,"v":64.5},{"i":203,"v":62.3},{"i":204,"v":61.1},{"i":204.8,"v":61.1},{"i":205.7,"v":55.6},{"i":206.6,"v":52.7},{"i":207.2,"v":54.5},{"i":207.7,"v":51.8},{"i":208.3,"v":61.1}
    ]
  },
  "vconcat": [
    {
      "width": 1761,
      "height": 352,
      "layer": [
        {
          "data": {"name": "fib"},
          "mark": {"type": "rule", "strokeWidth": 3, "clip": true},
          "encoding": {
            "x": {"field": "a", "type": "quantitative", "scale": {"domain": [-0.47, 276.85], "nice": false, "zero": false}, "axis": null},
            "x2": {"field": "b"},
            "y": {"field": "p", "type": "quantitative", "title": null, "scale": {"domain": [1.006841, 1.040256], "nice": false, "zero": false},
              "axis": {"orient": "right", "offset": -107, "values": [1.01, 1.015, 1.02, 1.025, 1.03, 1.035, 1.04], "format": ".5f", "labelPadding": 17}},
            "color": {"field": "lvl", "type": "nominal", "legend": null, "scale": {"domain": ["0", "0.382", "0.5", "0.618", "1"], "range": ["#2a2e39", "#2a2e39", "#000000", "#000000", "#000000"]}}
          }
        },
        {
          "data": {"name": "diag"},
          "mark": {"type": "line", "color": "#2a2e39", "strokeWidth": 2, "clip": true},
          "encoding": {
            "x": {"field": "i", "type": "quantitative", "scale": {"domain": [-0.47, 276.85], "nice": false, "zero": false}, "axis": null},
            "y": {"field": "p", "type": "quantitative", "title": null, "scale": {"domain": [1.006841, 1.040256], "nice": false, "zero": false}}
          }
        },
        {
          "data": {"name": "candles"},
          "mark": {"type": "rule", "color": "#000000", "strokeWidth": 1, "clip": true},
          "encoding": {
            "x": {"field": "i", "type": "quantitative", "scale": {"domain": [-0.47, 276.85], "nice": false, "zero": false}, "axis": null},
            "y": {"field": "l", "type": "quantitative", "title": null, "scale": {"domain": [1.006841, 1.040256], "nice": false, "zero": false}},
            "y2": {"field": "h"}
          }
        },
        {
          "data": {"name": "candles"},
          "mark": {"type": "bar", "width": 4, "stroke": "#000000", "strokeWidth": 1, "clip": true},
          "encoding": {
            "x": {"field": "i", "type": "quantitative", "scale": {"domain": [-0.47, 276.85], "nice": false, "zero": false}, "axis": null},
            "y": {"field": "o", "type": "quantitative", "title": null, "scale": {"domain": [1.006841, 1.040256], "nice": false, "zero": false}},
            "y2": {"field": "c"},
            "fill": {"condition": {"test": "datum.c >= datum.o", "value": "#3fb43f"}, "value": "#ec1c74"}
          }
        },
        {
          "data": {"name": "ma100"},
          "mark": {"type": "line", "color": "#1f4fa8", "strokeWidth": 3, "interpolate": "monotone", "clip": true},
          "encoding": {
            "x": {"field": "i", "type": "quantitative", "scale": {"domain": [-0.47, 276.85], "nice": false, "zero": false}, "axis": null},
            "y": {"field": "v", "type": "quantitative", "title": null, "scale": {"domain": [1.006841, 1.040256], "nice": false, "zero": false}}
          }
        },
        {
          "data": {"name": "ma200"},
          "mark": {"type": "line", "color": "#c0202a", "strokeWidth": 3, "interpolate": "monotone", "clip": true},
          "encoding": {
            "x": {"field": "i", "type": "quantitative", "scale": {"domain": [-0.47, 276.85], "nice": false, "zero": false}, "axis": null},
            "y": {"field": "v", "type": "quantitative", "title": null, "scale": {"domain": [1.006841, 1.040256], "nice": false, "zero": false}}
          }
        },
        {
          "data": {"name": "fib"},
          "mark": {"type": "text", "align": "right", "baseline": "bottom", "dx": -13, "dy": -5, "fontSize": 15, "color": "#131722"},
          "encoding": {
            "x": {"field": "b", "type": "quantitative", "scale": {"domain": [-0.47, 276.85], "nice": false, "zero": false}, "axis": null},
            "y": {"field": "p", "type": "quantitative", "title": null, "scale": {"domain": [1.006841, 1.040256], "nice": false, "zero": false}},
            "text": {"field": "label"}
          }
        }
      ]
    },
    {
      "width": 1761,
      "height": 122,
      "layer": [
        {
          "data": {"values": [{"lo": 20, "hi": 80}]},
          "mark": {"type": "rect", "color": "#e9d3fb"},
          "encoding": {
            "x": {"datum": -0.47, "type": "quantitative", "scale": {"domain": [-0.47, 276.85], "nice": false, "zero": false}, "axis": null},
            "x2": {"datum": 260},
            "y": {"field": "lo", "type": "quantitative", "title": null, "scale": {"domain": [-9.8, 109.8], "nice": false, "zero": false},
              "axis": {"orient": "right", "offset": -107, "values": [0, 100], "format": ".2f", "labelPadding": 17}},
            "y2": {"field": "hi"}
          }
        },
        {
          "data": {"values": [{"lv": 20}, {"lv": 80}]},
          "mark": {"type": "rule", "color": "#5d606b", "strokeWidth": 1, "strokeDash": [5, 4]},
          "encoding": {
            "x": {"datum": -0.47, "type": "quantitative", "scale": {"domain": [-0.47, 276.85], "nice": false, "zero": false}, "axis": null},
            "x2": {"datum": 260},
            "y": {"field": "lv", "type": "quantitative", "title": null, "scale": {"domain": [-9.8, 109.8], "nice": false, "zero": false}}
          }
        },
        {
          "data": {"name": "stk"},
          "mark": {"type": "line", "color": "#2196f3", "strokeWidth": 1.5, "clip": true},
          "encoding": {
            "x": {"field": "i", "type": "quantitative", "scale": {"domain": [-0.47, 276.85], "nice": false, "zero": false}, "axis": null},
            "y": {"field": "v", "type": "quantitative", "title": null, "scale": {"domain": [-9.8, 109.8], "nice": false, "zero": false}}
          }
        },
        {
          "data": {"name": "std"},
          "mark": {"type": "line", "color": "#ff6d00", "strokeWidth": 1.5, "clip": true},
          "encoding": {
            "x": {"field": "i", "type": "quantitative", "scale": {"domain": [-0.47, 276.85], "nice": false, "zero": false}, "axis": null},
            "y": {"field": "v", "type": "quantitative", "title": null, "scale": {"domain": [-9.8, 109.8], "nice": false, "zero": false}}
          }
        }
      ]
    },
    {
      "width": 1761,
      "height": 120,
      "layer": [
        {
          "data": {"values": [{"lo": 30, "hi": 70}]},
          "mark": {"type": "rect", "color": "#f4e7fd"},
          "encoding": {
            "x": {"datum": -0.47, "type": "quantitative", "scale": {"domain": [-0.47, 276.85], "nice": false, "zero": false}, "axis": null},
            "x2": {"datum": 260},
            "y": {"field": "lo", "type": "quantitative", "title": null, "scale": {"domain": [15.8, 95.8], "nice": false, "zero": false},
              "axis": {"orient": "right", "offset": -107, "values": [40, 80], "format": ".2f", "labelPadding": 17}},
            "y2": {"field": "hi"}
          }
        },
        {
          "data": {"values": [{"lv": 30}, {"lv": 70}]},
          "mark": {"type": "rule", "color": "#b9b4c4", "strokeWidth": 1, "strokeDash": [5, 4]},
          "encoding": {
            "x": {"datum": -0.47, "type": "quantitative", "scale": {"domain": [-0.47, 276.85], "nice": false, "zero": false}, "axis": null},
            "x2": {"datum": 260},
            "y": {"field": "lv", "type": "quantitative", "title": null, "scale": {"domain": [15.8, 95.8], "nice": false, "zero": false}}
          }
        },
        {
          "data": {"name": "rsi"},
          "mark": {"type": "line", "color": "#8e24aa", "strokeWidth": 1.5, "clip": true},
          "encoding": {
            "x": {"field": "i", "type": "quantitative", "scale": {"domain": [-0.47, 276.85], "nice": false, "zero": false}, "axis": null},
            "y": {"field": "v", "type": "quantitative", "title": null, "scale": {"domain": [15.8, 95.8], "nice": false, "zero": false}}
          }
        }
      ]
    },
    {
      "width": 1761,
      "height": 47,
      "title": {"text": "TV", "orient": "bottom", "anchor": "start", "frame": "group", "dx": 1, "offset": 18, "fontSize": 19, "fontWeight": 900, "font": "DejaVu Sans", "color": "#131722"},
      "data": {"values": [{"edge": 260}]},
      "mark": {"type": "rule", "color": "#787b86", "strokeWidth": 1},
      "encoding": {
        "x": {"field": "edge", "type": "quantitative", "title": null, "scale": {"domain": [-0.47, 276.85], "nice": false, "zero": false},
          "axis": {"orient": "bottom", "offset": -47, "domainColor": "#2a2e39", "domainWidth": 1.5, "labelPadding": 16,
            "values": [13.4, 49.4, 73.4, 109.4, 133.4, 169.4, 193.4, 229.4, 253.4],
            "labelExpr": "datum.value < 20 ? '20' : datum.value < 60 ? '25' : datum.value < 90 ? '27' : datum.value < 120 ? 'Aug' : datum.value < 150 ? '3' : datum.value < 180 ? '8' : datum.value < 210 ? '10' : datum.value < 240 ? '15' : '17'"}}
      }
    }
  ]
}
